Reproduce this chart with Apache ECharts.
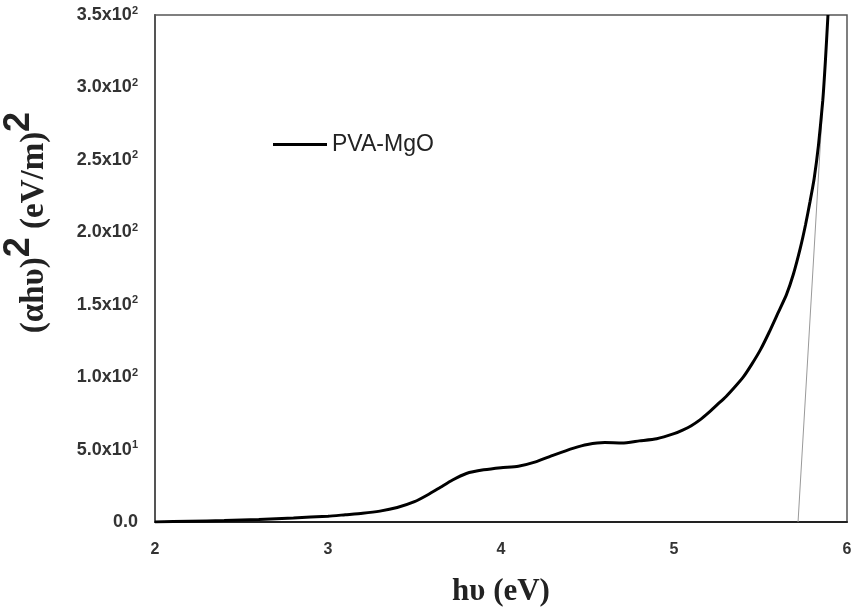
<!DOCTYPE html>
<html>
<head>
<meta charset="utf-8">
<script src="https://cdn.jsdelivr.net/npm/echarts@6/dist/echarts.min.js"></script>
<style>
  html, body { margin: 0; padding: 0; background: #fff; }
  #chart { width: 855px; height: 614px; }
</style>
</head>
<body>
<div id="chart"></div>
<script>
// photon energy (eV) and (ahv)^2 values
const energy = [2.0, 2.2, 2.4, 2.6, 2.8, 3.0, 3.1, 3.2, 3.3, 3.4, 3.5, 3.58, 3.65, 3.72, 3.8,
  3.9, 4.0, 4.1, 4.2, 4.3, 4.42, 4.5, 4.6, 4.7, 4.8, 4.9, 5.0, 5.05, 5.1, 5.15, 5.2, 5.25,
  5.3, 5.35, 5.4, 5.45, 5.5, 5.55, 5.6, 5.65, 5.69, 5.73, 5.76, 5.786, 5.81, 5.835, 5.86,
  5.875, 5.89];
const absorption = [0, 0.5, 1, 1.8, 2.8, 4, 5, 6, 7.5, 10, 14, 19, 24, 29, 33.5,
  36, 37.5, 38.5, 41.5, 46, 51, 53.5, 54.8, 54.5, 56, 57.5, 61, 63.5, 66.5, 70.5, 75.5, 81,
  86.5, 93, 100, 109, 119, 131, 144, 157, 171, 189, 205, 221, 237, 260, 291,
  318, 350];
// extrapolated straight line down to the energy axis
const fitEnergy = [5.717, 5.89];
const fitValue = [0, 350];

const xTicks = [2, 3, 4, 5, 6];
const yTickLabels = ['0.0', '5.0x10{s|1}', '1.0x10{s|2}', '1.5x10{s|2}', '2.0x10{s|2}',
  '2.5x10{s|2}', '3.0x10{s|2}', '3.5x10{s|2}'];

const chart = echarts.init(document.getElementById('chart'));

const option = {
  animation: false,
  backgroundColor: '#fff',
  grid: {
    left: 155,
    right: 8,
    top: 15,
    bottom: 92,
    outerBoundsMode: 'none',
    show: true,
    borderColor: '#555',
    borderWidth: 1.5,
  },
  legend: {
    left: 268,
    top: 128,
    icon: 'rect',
    itemWidth: 54,
    itemHeight: 3,
    itemGap: 8,
    data: ['PVA-MgO'],
    textStyle: {
      fontFamily: 'Liberation Sans, Arial, sans-serif',
      fontSize: 23,
      color: '#222',
    },
  },
  xAxis: {
    type: 'value',
    min: 2,
    max: 6,
    interval: 1,
    name: 'h\u03c5 (eV)',
    nameLocation: 'middle',
    nameGap: 54,
    nameTextStyle: {
      fontFamily: 'Liberation Serif, Times New Roman, serif',
      fontWeight: 'bold',
      fontSize: 31,
      color: '#222',
    },
    axisLine: { show: true, lineStyle: { color: '#222', width: 2 } },
    axisTick: { show: false },
    splitLine: { show: false },
    axisLabel: {
      margin: 20,
      fontFamily: 'Liberation Sans, Arial, sans-serif',
      fontWeight: 'bold',
      fontSize: 16,
      color: '#333',
      formatter: (v) => (xTicks.includes(v) ? String(v) : ''),
    },
  },
  yAxis: {
    type: 'value',
    min: 0,
    max: 350,
    interval: 50,
    name: '{b|(\u03b1h\u03c5)}{p|2}{b| (eV/m)}{p|2}',
    nameLocation: 'middle',
    nameGap: 104,
    nameTextStyle: {
      padding: [0, 0, 0, 92],
      rich: {
        b: {
          fontFamily: 'Liberation Serif, Times New Roman, serif',
          fontWeight: 'bold',
          fontSize: 33,
          color: '#222',
          lineHeight: 50,
          verticalAlign: 'bottom',
        },
        p: {
          fontFamily: 'Liberation Sans, Arial, sans-serif',
          fontWeight: 'bold',
          fontSize: 36,
          color: '#222',
          lineHeight: 50,
          verticalAlign: 'top',
        },
      },
    },
    axisLine: { show: true, lineStyle: { color: '#555', width: 2 } },
    axisTick: { show: false },
    splitLine: { show: false },
    axisLabel: {
      margin: 17,
      fontFamily: 'Liberation Sans, Arial, sans-serif',
      fontWeight: 'bold',
      fontSize: 18,
      color: '#333',
      formatter: (v) => yTickLabels[Math.round(v / 50)] || '',
      rich: {
        s: {
          fontFamily: 'Liberation Sans, Arial, sans-serif',
          fontWeight: 'bold',
          fontSize: 11,
          color: '#333',
          verticalAlign: 'top',
          padding: [0, 0, 9, 0],
        },
      },
    },
  },
  series: [
    {
      name: 'fit',
      type: 'line',
      symbol: 'none',
      silent: true,
      data: fitEnergy.map((e, i) => [e, fitValue[i]]),
      lineStyle: { color: '#999', width: 1 },
      z: 1,
    },
    {
      name: 'PVA-MgO',
      type: 'line',
      symbol: 'none',
      smooth: 0.2,
      data: energy.map((e, i) => [e, absorption[i]]),
      lineStyle: { color: '#000', width: 3 },
      itemStyle: { color: '#000' },
      z: 3,
    },
  ],
};

chart.setOption(option);
</script>
</body>
</html>
